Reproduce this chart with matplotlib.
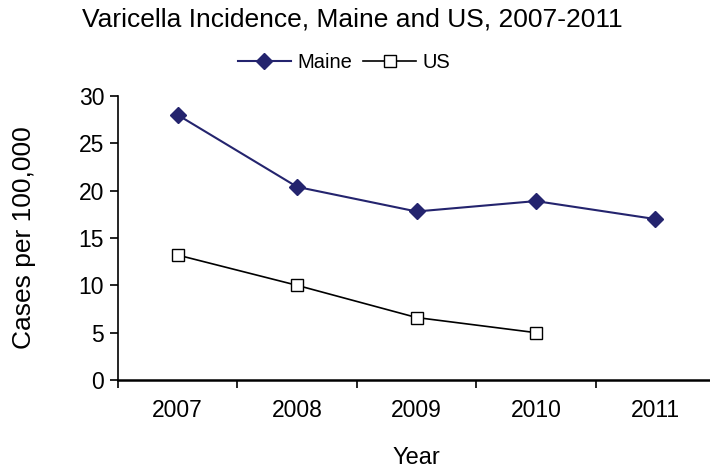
import numpy as np
import matplotlib
matplotlib.use('Agg')
import matplotlib.pyplot as plt

plt.rcParams['font.family'] = ['Liberation Sans', 'DejaVu Sans']

years = ['2007', '2008', '2009', '2010', '2011']
maine = [28.0, 20.4, 17.8, 18.9, 17.0]
us = [13.2, 10.0, 6.6, 5.0]

fig = plt.figure(figsize=(7.1, 4.71), dpi=100)
ax = fig.add_axes([118 / 710, 91 / 471, 597 / 710, 284 / 471])

x = np.arange(len(years))
ax.plot(x, maine, '-D', color='#24246e', lw=1.5, ms=8, label='Maine')
ax.plot(x[:len(us)], us, '-s', color='black', mfc='white', mec='black',
        lw=1.2, ms=9, label='US')

ax.set_xlim(-0.5, len(years) - 0.5)
ax.set_ylim(0, 30)
ax.set_yticks(range(0, 31, 5))
ax.set_xticks(x)
ax.set_xticklabels(years)
ax.set_xticks(np.arange(-0.5, len(years)), minor=True)
ax.tick_params(axis='x', which='major', length=0, pad=14, labelsize=16.5)
ax.tick_params(axis='x', which='minor', length=6, width=1.2)
ax.tick_params(axis='y', length=6, width=1.2, labelsize=16.5, pad=4)

for s in ['top', 'right']:
    ax.spines[s].set_visible(False)
ax.spines['left'].set_linewidth(1.2)
ax.spines['bottom'].set_linewidth(1.8)

ax.set_xlabel('Year', fontsize=17, labelpad=18)
ax.set_ylabel('Cases per 100,000', fontsize=19, labelpad=31)
fig.text(352 / 710, 1 - 20 / 471, 'Varicella Incidence, Maine and US, 2007-2011',
         ha='center', va='center', fontsize=19)

ax.legend(loc='center', bbox_to_anchor=(344 / 710, 1 - 63 / 471),
          bbox_transform=fig.transFigure, ncol=2, frameon=False,
          fontsize=14.5, handlelength=2.65, handletextpad=0.3, columnspacing=0.55)

fig.savefig('out.png', dpi=100)
